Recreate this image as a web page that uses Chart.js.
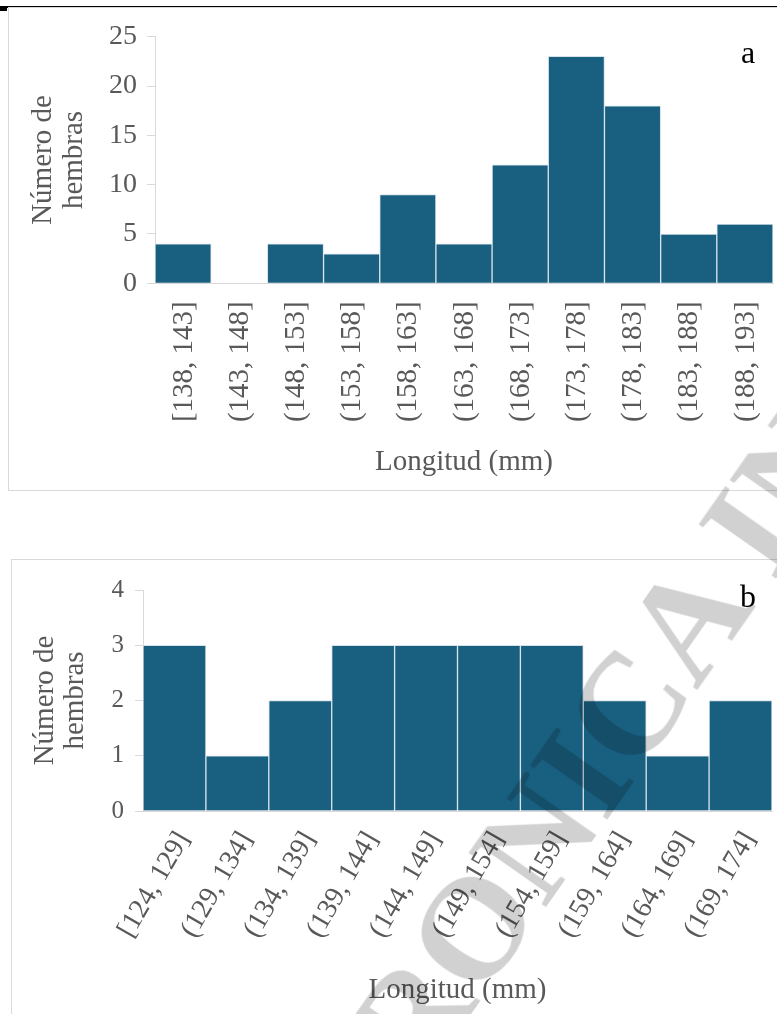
<!DOCTYPE html>
<html lang="es">
<head>
<meta charset="utf-8">
<title>Longitud de hembras</title>
<script src="https://cdn.jsdelivr.net/npm/chart.js@4.4.1/dist/chart.umd.min.js"></script>
<style>
  html, body { margin: 0; padding: 0; width: 777px; height: 1014px; overflow: hidden; background: #fff; }
  .rule { position: absolute; left: 0; top: 6px; width: 777px; height: 2px; background: #000; }
  .nub { position: absolute; left: 0; top: 8px; width: 7px; height: 3px; background: #000; }
  .frame { position: absolute; border: 1px solid #d9d9d9; }
  .wrap { position: absolute; left: 0; width: 777px; }
  .mark {
    position: absolute; left: 138px; top: 1368.6px;
    font-family: "Liberation Serif", serif; font-weight: bold; font-size: 145px; line-height: 145px;
    white-space: nowrap; color: rgba(0, 0, 0, 0.18);
    transform-origin: 0 121.4px; transform: rotate(-55deg);
    pointer-events: none;
  }
</style>
</head>
<body>
<div class="rule"></div>
<div class="nub"></div>
<div class="frame" style="left:8px; top:7px; width:820px; height:482px;"></div>
<div class="frame" style="left:11px; top:559px; width:820px; height:500px;"></div>
<div class="wrap" style="top:8px; height:482px;"><canvas id="histA"></canvas></div>
<div class="wrap" style="top:559px; height:455px;"><canvas id="histB"></canvas></div>
<div class="mark">ELECTRONICA IN</div>

<script>
// Length classes (mm) and number of females in each class
const classesA = ['[138, 143]', '(143, 148]', '(148, 153]', '(153, 158]', '(158, 163]', '(163, 168]',
                  '(168, 173]', '(173, 178]', '(178, 183]', '(183, 188]', '(188, 193]'];
const femalesA = [4, 0, 4, 3, 9, 4, 12, 23, 18, 5, 6];

const classesB = ['[124, 129]', '(129, 134]', '(134, 139]', '(139, 144]', '(144, 149]',
                  '(149, 154]', '(154, 159]', '(159, 164]', '(164, 169]', '(169, 174]'];
const femalesB = [3, 1, 2, 3, 3, 3, 3, 2, 1, 2];

// y-axis ranges
const yMaxA = 25, yStepA = 5;
const yMaxB = 4,  yStepB = 1;

const xTitle = 'Longitud (mm)';
const yTitle = ['Número de', 'hembras'];

const BAR = '#185f80';
const EDGE = '#d6e2ea';
const AXIS = '#d9d9d9';
const TXT = '#595959';
const FONT = '"Liberation Serif", "Times New Roman", serif';

// panel letter in the upper right corner
const panelLetter = {
  id: 'panelLetter',
  afterDraw(chart, args, opts) {
    const ctx = chart.ctx;
    ctx.save();
    ctx.font = '32px ' + FONT;
    ctx.fillStyle = '#000';
    ctx.textBaseline = 'alphabetic';
    ctx.textAlign = 'left';
    ctx.fillText(opts.text, opts.x, opts.y);
    ctx.restore();
  }
};

function histogram(id, c) {
  return new Chart(document.getElementById(id), {
    type: 'bar',
    data: {
      labels: c.labels,
      datasets: [{
        data: c.values,
        backgroundColor: BAR,
        borderColor: EDGE,
        borderWidth: 1,
        categoryPercentage: 1,
        barPercentage: 1
      }]
    },
    options: {
      responsive: true,
      maintainAspectRatio: false,
      animation: false,
      events: [],
      layout: { padding: { left: 0, top: c.top, right: c.right, bottom: 0 } },
      plugins: {
        legend: { display: false },
        tooltip: { enabled: false },
        panelLetter: c.letter
      },
      scales: {
        x: {
          grid: { display: true, drawOnChartArea: false, drawTicks: false },
          border: { display: true, color: AXIS, width: 1 },
          ticks: {
            autoSkip: false,
            minRotation: c.rot, maxRotation: c.rot,
            padding: c.xPad, labelOffset: c.xShift,
            color: TXT, font: { family: FONT, size: c.xFont }
          },
          title: {
            display: true, text: xTitle, color: TXT,
            font: { family: FONT, size: 29, lineHeight: 1.2 },
            padding: { top: 0, bottom: c.xTitlePad }
          },
          afterFit(s) { s.height = c.xHeight; s.paddingLeft = 0; s.paddingRight = 0; }
        },
        y: {
          min: 0, max: c.yMax,
          ticks: { stepSize: c.yStep, padding: c.yPad, color: TXT, font: { family: FONT, size: c.yFont } },
          grid: { display: true, drawOnChartArea: false, drawTicks: true, tickLength: 8, color: AXIS },
          border: { display: true, color: AXIS, width: 1 },
          title: {
            display: true, text: yTitle, color: TXT,
            font: { family: FONT, size: 29, lineHeight: 1.06 },
            padding: { top: c.yTitlePad, bottom: 0 }
          },
          afterFit(s) { s.width = c.yWidth; s.paddingTop = 0; s.paddingBottom = 0; }
        }
      }
    },
    plugins: [panelLetter]
  });
}

histogram('histA', {
  labels: classesA, values: femalesA, yMax: yMaxA, yStep: yStepA,
  top: 28.7, right: 4, yWidth: 155, xHeight: 206.7,
  rot: 90, xPad: 18, xShift: 1, xFont: 29, xTitlePad: 10.6,
  yFont: 28, yPad: 10, yTitlePad: 28.3,
  letter: { text: 'a', x: 741, y: 55 }
});

histogram('histB', {
  labels: classesB, values: femalesB, yMax: yMaxB, yStep: yStepB,
  top: 31, right: 5, yWidth: 143, xHeight: 203,
  rot: 60, xPad: 15, xShift: 9, xFont: 28, xTitlePad: 6.6,
  yFont: 25, yPad: 11, yTitlePad: 29.6,
  letter: { text: 'b', x: 740, y: 48 }
});
</script>
</body>
</html>
